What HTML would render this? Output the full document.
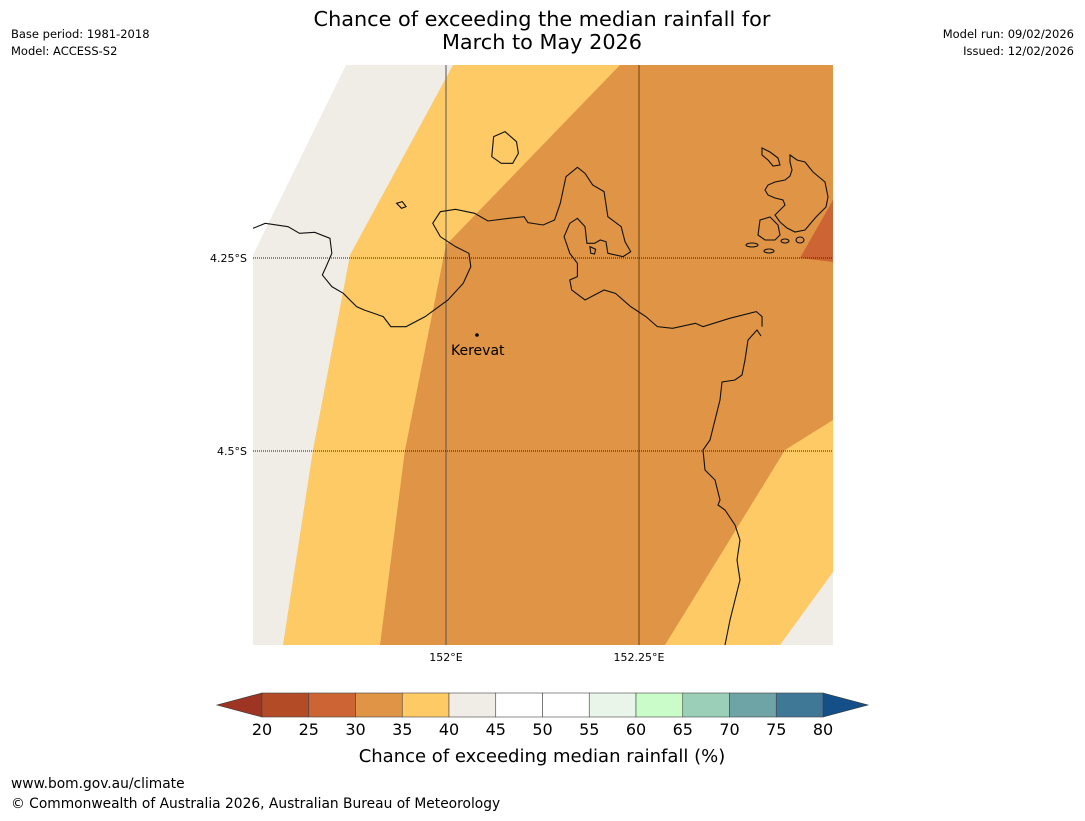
<!DOCTYPE html>
<html><head><meta charset="utf-8"><style>
body{margin:0;background:#fff;width:1085px;height:816px;overflow:hidden;font-family:"Liberation Sans","DejaVu Sans",sans-serif;}
svg text{font-family:"DejaVu Sans","Liberation Sans",sans-serif;}
</style></head><body>
<svg width="1085" height="816">
<text x="542" y="26" font-size="20.8" text-anchor="middle">Chance of exceeding the median rainfall for</text>
<text x="542" y="49" font-size="20.8" text-anchor="middle">March to May 2026</text>
<text x="11" y="38" font-size="11.5">Base period: 1981-2018</text>
<text x="11" y="55" font-size="11.5">Model: ACCESS-S2</text>
<text x="1074" y="38" font-size="11.5" text-anchor="end">Model run: 09/02/2026</text>
<text x="1074" y="55" font-size="11.5" text-anchor="end">Issued: 12/02/2026</text>
<g>
<clipPath id="mc"><rect x="253" y="65" width="580" height="580"/></clipPath>
<g clip-path="url(#mc)">
<rect x="253" y="65" width="580" height="580" fill="#e09445"/>
<polygon points="253,65 620,65 446,245 405,450 380,645 253,645" fill="#fdca66"/>
<polygon points="833,420 785,450 665,645 833,645" fill="#fdca66"/>
<polygon points="253,65 453,65 446,78 350,255 313,450 283,645 253,645" fill="#f0ece6"/>
<polygon points="833,572 780,645 833,645" fill="#f0ece6"/>
<polygon points="253,65 346,65 253,255" fill="#ffffff"/>
<polygon points="833,200 800,258 833,262" fill="#cc6433"/>
</g>
<line x1="446" y1="65" x2="446" y2="645" stroke="#555" stroke-width="1"/>
<line x1="639" y1="65" x2="639" y2="645" stroke="#6b4010" stroke-width="1"/>
<line x1="253" y1="258" x2="833" y2="258" stroke="#222" stroke-dasharray="1,1"/>
<line x1="253" y1="451" x2="833" y2="451" stroke="#222" stroke-dasharray="1,1"/>
<g fill="none" stroke="#111" stroke-width="1.1">
<g transform="translate(250,60) scale(0.3807,0.3333)">
<path vector-effect="non-scaling-stroke" d="M8,505 L40,490 L100,500 L130,520 L170,517 L210,535 L215,580 L200,620 L190,645 L215,680 L245,700 L280,740 L300,750 L350,770 L370,800 L410,800 L460,770 L520,720 L560,670 L580,620 L575,580 L540,560 L500,530 L480,490 L500,455 L540,448 L590,460 L625,483 L680,475 L720,470 L730,488 L770,495 L800,480 L815,430 L830,350 L860,322 L880,340 L900,375 L930,395 L940,470 L975,500 L985,545 L1000,575 L980,590 L940,580 L935,545 L920,540 L905,550 L885,550 L880,500 L860,475 L840,490 L825,530 L840,580 L860,610 L860,650 L840,660 L845,690 L880,720 L930,690 L960,700 L1000,740 L1040,770 L1070,800 L1110,805 L1170,790 L1190,800 L1260,775 L1330,755 L1345,770 L1345,800"/>
<path vector-effect="non-scaling-stroke" d="M640,230 L670,215 L700,245 L705,280 L690,310 L660,310 L635,290 Z"/>
<path vector-effect="non-scaling-stroke" d="M385,430 L400,425 L410,440 L398,445 Z"/>
<path vector-effect="non-scaling-stroke" d="M893,560 L908,568 L905,582 L895,580 Z"/>
</g>
<path d="M761,336 L757,330 L748,340 L745,360 L742,375 L735,380 L722,382 L720,400 L715,420 L710,440 L703,450 L705,470 L715,480 L720,500 L718,505 L725,510 L735,525 L740,540 L737,560 L740,580 L735,600 L730,620 L725,645"/>
<path d="M762,148 L770,152 L778,158 L780,165 L773,166 L768,160 L762,155 Z"/>
<path d="M790,155 L797,160 L805,162 L813,172 L825,182 L828,197 L826,207 L816,217 L805,230 L795,232 L787,228 L780,222 L775,215 L780,210 L785,205 L783,200 L775,198 L768,195 L765,190 L768,185 L775,182 L785,180 L790,176 L792,170 L790,162 Z"/>
<path d="M760,220 L770,217 L778,225 L780,235 L775,240 L765,240 L758,235 Z"/>
<ellipse cx="752" cy="245" rx="6" ry="2"/><ellipse cx="769" cy="251" rx="5" ry="2"/><ellipse cx="785" cy="241" rx="4" ry="2"/><ellipse cx="800" cy="240" rx="4" ry="3"/>
</g>
<circle cx="477" cy="335" r="1.8" fill="#000"/>
<text x="451" y="355" font-size="14">Kerevat</text>
<text x="247" y="262" font-size="11" text-anchor="end">4.25°S</text>
<text x="247" y="455" font-size="11" text-anchor="end">4.5°S</text>
<text x="446" y="661" font-size="11" text-anchor="middle">152°E</text>
<text x="639" y="661" font-size="11" text-anchor="middle">152.25°E</text>
</g>
<g id="cbar"></g>
<text x="542" y="762" font-size="18" text-anchor="middle">Chance of exceeding median rainfall (%)</text>
<text x="11" y="788" font-size="13.8">www.bom.gov.au/climate</text>
<text x="11" y="808" font-size="13.8">© Commonwealth of Australia 2026, Australian Bureau of Meteorology</text>
</svg>
<script>
const tickLabels=[20,25,30,35,40,45,50,55,60,65,70,75,80];
const binColors=["#b34b26","#cc6433","#e09445","#fdca66","#f0ece6","#ffffff","#ffffff","#eaf5ea","#c9fcc9","#9bcfb8","#6fa4a6","#3f7796"];
const extendColors=["#9e3523","#154f88"];
const NS="http://www.w3.org/2000/svg";
const g=document.getElementById('cbar');
const x0=262,x1=823,y0=693,y1=717;
const xs=v=>x0+(v-tickLabels[0])/(tickLabels[tickLabels.length-1]-tickLabels[0])*(x1-x0);
function mk(t,a){const e=document.createElementNS(NS,t);for(const k in a)e.setAttribute(k,a[k]);g.appendChild(e);return e;}
let lt=mk('polygon',{points:`${x0},${y0} ${x0},${y1} 217,${(y0+y1)/2}`,fill:extendColors[0],stroke:'#333','stroke-width':0.6});


let rt=mk('polygon',{points:`${x1},${y0} ${x1},${y1} 868,${(y0+y1)/2}`,fill:extendColors[1],stroke:'#333','stroke-width':0.6});


binColors.forEach((c,i)=>{
 const a=xs(tickLabels[i]),b=xs(tickLabels[i+1]);
 const r=mk('rect',{x:a,y:y0,width:b-a,height:y1-y0,fill:c,stroke:'#444','stroke-width':0.6});
 
 
});
tickLabels.forEach(v=>{
 const t=mk('text',{x:xs(v),y:735,'font-size':16,'text-anchor':'middle'});
 t.textContent=v;
 
 
});
</script>
</body></html>
